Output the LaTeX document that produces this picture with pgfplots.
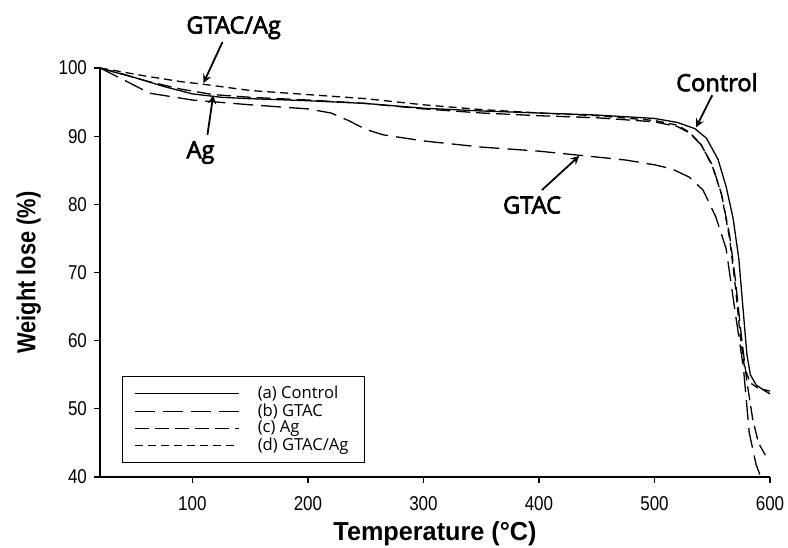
\documentclass[border=0pt]{standalone}
\usepackage{fontspec}
\usepackage{pgfplots}
\pgfplotsset{compat=1.18}
\setmainfont{Liberation Sans}
\newfontfamily\tickfont[FakeStretch=0.85]{Liberation Sans}
\newfontfamily\xlabfont[FakeStretch=0.97]{Liberation Sans}
\newfontfamily\ylabfont[FakeStretch=0.84]{Liberation Sans}
\newfontfamily\annfont{Open Sans}
\newfontfamily\annboldfont[FakeBold=3]{Open Sans}

\pgfplotstableread{
T W
20 100
30 99.5
50 98.6
75 97.3
100 96.2
125 95.7
150 95.5
200 95.2
250 94.8
300 94.1
350 93.7
400 93.4
450 93.1
500 92.6
520 92.0
535 91.1
545 89.7
555 86.6
562 82.6
568 78.0
573 72.0
577 64.0
580 58.0
583 55.0
588 53.5
595 52.7
600 52.2
}\control

\pgfplotstableread{
T W
20 100
40 98.3
63 96.3
100 95.3
150 94.6
200 94.0
220 93.4
235 92.3
250 91.0
265 90.2
300 89.3
350 88.4
400 87.8
435 87.2
475 86.5
500 85.8
515 85.2
530 84.0
542 82.1
553 78.2
562 73.5
570 64.0
577 56.0
582 46.5
588 41.8
592 40.0
}\gtac

\pgfplotstableread{
T W
20 100
40 99.1
60 98.1
90 96.9
118 96.1
150 95.7
200 95.3
250 94.8
300 94.0
350 93.4
400 93.0
450 92.7
500 92.1
520 91.4
530 90.5
540 88.8
550 85.8
558 81.5
565 75.5
570 69.0
575 61.0
580 54.0
585 48.5
590 45.0
596 43.2
}\ag

\pgfplotstableread{
T W
20 100
40 99.4
60 98.8
90 98.0
110 97.6
150 96.7
200 96.1
250 95.5
300 94.6
350 93.9
400 93.4
450 93.0
500 92.3
520 91.6
530 90.6
540 88.9
550 85.6
558 81.5
565 75.0
570 68.0
574 61.0
578 56.0
583 53.8
590 53.0
600 52.6
}\gtacag

\begin{document}
\begin{tikzpicture}
\begin{axis}[
  name=ax,
  scale only axis,
  width=335pt, height=204.5pt,
  xmin=20, xmax=600, ymin=40, ymax=100,
  xtick={100,200,300,400,500,600},
  ytick={40,50,60,70,80,90,100},
  tick align=outside,
  axis x line*=bottom, axis y line*=left,
  major tick length=3pt,
  tick style={black, line width=0.6pt},
  axis line style={line width=0.8pt},
  /pgf/number format/assume math mode=true,
  ticklabel style={font=\tickfont\fontsize{10}{11}\selectfont},
  xticklabel style={yshift=-3pt},
  xlabel={\xlabfont\bfseries\fontsize{13}{15}\selectfont Temperature (°C)},
  ylabel={\ylabfont\bfseries\fontsize{13}{15}\selectfont Weight lose (\%)},
  xlabel style={yshift=1pt},
  ylabel style={yshift=2pt},
  clip=false,
  legend cell align=left,
  legend style={at={(0.033,0.034)}, anchor=south west, draw=black, line width=0.5pt,
    font=\annfont\fontsize{8.3}{9}\selectfont, inner xsep=6pt, inner ysep=2.5pt,
    row sep=-3pt, /tikz/every odd column/.style={column sep=7pt}},
  legend image code/.code={\draw[#1, line width=0.6pt] (0pt,0pt) -- (52pt,0pt);},
]
\addplot[black, line width=0.65pt] table[x=T,y=W] {\control};
\addlegendentry{(a) Control}
\addplot[black, line width=0.65pt, dash pattern=on 10pt off 4pt] table[x=T,y=W] {\gtac};
\addlegendentry{(b) GTAC}
\addplot[black, line width=0.65pt, dash pattern=on 7pt off 3pt] table[x=T,y=W] {\ag};
\addlegendentry{(c) Ag}
\addplot[black, line width=0.65pt, dash pattern=on 4pt off 2.5pt] table[x=T,y=W] {\gtacag};
\addlegendentry{(d) GTAC/Ag}

\node[font=\annboldfont\fontsize{11.8}{12}\selectfont] at (axis cs:135.7,105.9) {GTAC/Ag};
\draw[-stealth, line width=0.9pt] (axis cs:126,103.8) -- (axis cs:109.6,97.8);
\node[font=\annboldfont\fontsize{11.8}{12}\selectfont] at (axis cs:107,87.6) {Ag};
\draw[-stealth, line width=0.9pt] (axis cs:113,90.2) -- (axis cs:118,96.0);
\node[font=\annboldfont\fontsize{11.8}{12}\selectfont] at (axis cs:554,97.9) {Control};
\draw[-stealth, line width=0.9pt] (axis cs:550,96.0) -- (axis cs:536,91.3);
\node[font=\annboldfont\fontsize{11.8}{12}\selectfont] at (axis cs:394,79.9) {GTAC};
\draw[-stealth, line width=0.9pt] (axis cs:402.6,82.1) -- (axis cs:434.8,87.1);
\end{axis}
\pgfresetboundingbox
\path[use as bounding box] ([xshift=-50pt,yshift=-35.5pt]ax.south west) rectangle ([xshift=9pt,yshift=34pt]ax.north east);
\end{tikzpicture}
\end{document}
